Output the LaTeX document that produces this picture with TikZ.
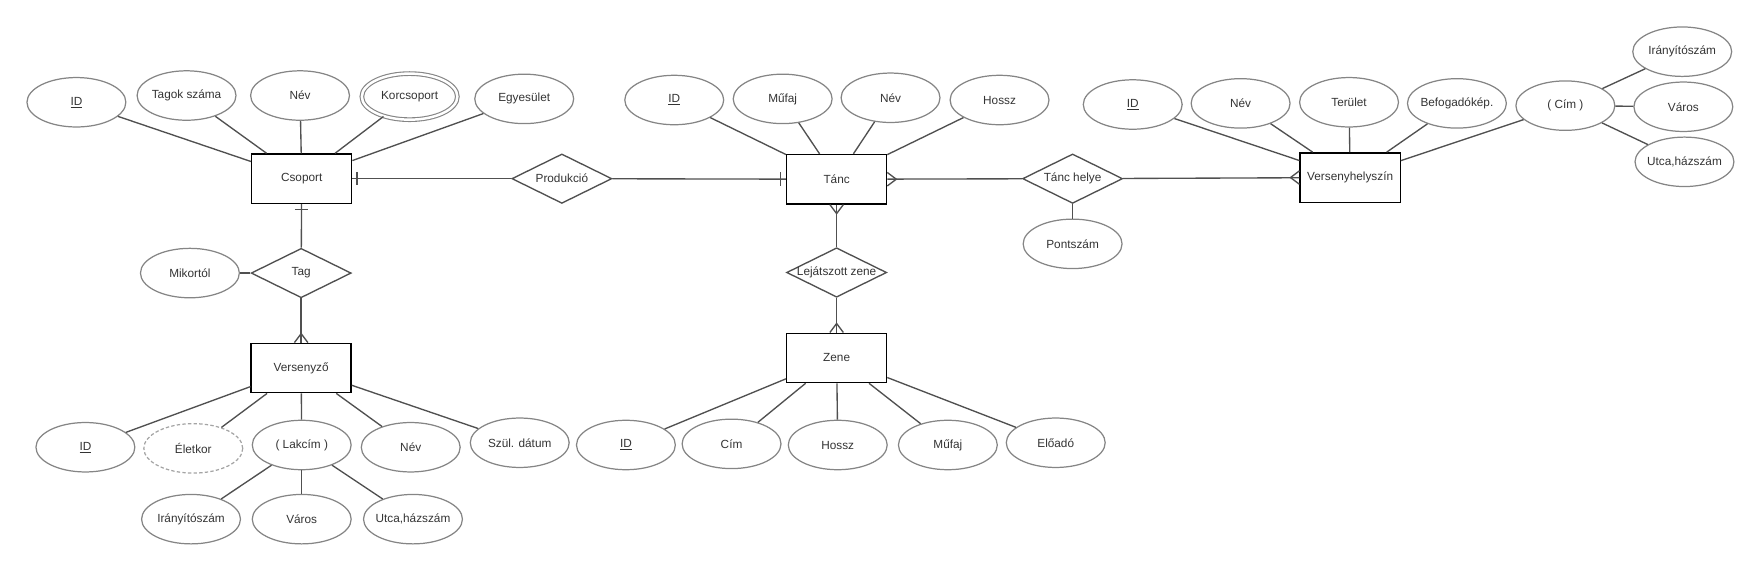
\documentclass[tikz,border=0pt]{standalone}
\usepackage{fontspec}
\setmainfont{Liberation Sans}
\usetikzlibrary{shapes.geometric,calc}
\definecolor{ln}{HTML}{505050}
\definecolor{el}{HTML}{858585}
\definecolor{tx}{HTML}{333333}
\newcommand{\zb}[1]{\makebox[0pt]{#1}}
\begin{document}
\begin{tikzpicture}[x=1pt,y=-1pt,
  every node/.style={font=\fontsize{10.5}{12}\selectfont, text=tx},
  ent/.style={rectangle, draw=black, line width=1.2pt, minimum width=89pt, minimum height=44pt, inner sep=0pt},
  attr/.style={ellipse, draw=el, line width=1.1pt, minimum width=88pt, minimum height=44pt, inner sep=0pt},
  dblattr/.style={attr, line width=1pt, double=white, double distance=2.2pt, minimum width=85pt, minimum height=41pt},
  derattr/.style={attr, draw=el!75, dash pattern=on 3pt off 2pt},
  rel/.style={diamond, draw=ln, line width=1.2pt, minimum width=89pt, minimum height=44pt, inner sep=0pt},
  con/.style={draw=ln, line width=1.2pt}]
\useasboundingbox (0,0) rectangle (1568,508);

% ---- Csoport ----
\node[ent] (csop) at (268.5,159) {Csoport};
\node[attr] (cid) at (68,91) {\zb{\underline{ID}}};
\node[attr] (ctag) at (166,85) {\zb{Tagok száma}};
\node[attr] (cnev) at (267,85) {\zb{Név}};
\node[dblattr] (ckor) at (364.5,86) {\zb{Korcsoport}};
\node[attr] (cegy) at (466.5,88) {\zb{Egyesület}};
\node[rel] (prod) at (500,159) {\zb{Produkció}};
\node[rel] (tag) at (268,243) {\zb{Tag}};
\node[attr] (mik) at (169,243) {\zb{Mikortól}};

% ---- Versenyző ----
\node[ent] (vers) at (268,327.5) {Versenyző};
\node[attr] (vid) at (76,398) {\zb{\underline{ID}}};
\node[derattr] (elet) at (172,399) {\zb{Életkor}};
\node[attr] (lak) at (268.5,396) {\zb{( Lakcím )}};
\node[attr] (vnev) at (365.5,398) {\zb{Név}};
\node[attr] (szul) at (462.5,394) {\zb{Szül. dátum}};
\node[attr] (lirsz) at (170,462) {\zb{Irányítószám}};
\node[attr] (lvar) at (268.5,462) {\zb{Város}};
\node[attr] (lutca) at (367.5,462) {\zb{Utca,házszám}};

% ---- Tánc ----
\node[ent] (tanc) at (744.5,159.5) {Tánc};
\node[attr] (tid) at (600,89) {\zb{\underline{ID}}};
\node[attr] (tmuf) at (696.5,88) {\zb{Műfaj}};
\node[attr] (tnev) at (792.5,87) {\zb{Név}};
\node[attr] (thossz) at (889.5,89) {\zb{Hossz}};
\node[rel] (thely) at (954.5,159) {\zb{Tánc helye}};
\node[attr] (pont) at (954.5,217) {\zb{Pontszám}};
\node[rel] (lej) at (744.5,242.5) {\zb{Lejátszott zene}};

% ---- Zene ----
\node[ent] (zene) at (744.5,318.5) {Zene};
\node[attr] (zid) at (557,396) {\zb{\underline{ID}}};
\node[attr] (zcim) at (651,395) {\zb{Cím}};
\node[attr] (zhossz) at (745.5,396) {\zb{Hossz}};
\node[attr] (zmuf) at (843.5,396) {\zb{Műfaj}};
\node[attr] (zelo) at (939.5,394) {\zb{Előadó}};

% ---- Versenyhelyszín ----
\node[ent] (vh) at (1201.5,158) {Versenyhelyszín};
\node[attr] (hid) at (1008,93) {\zb{\underline{ID}}};
\node[attr] (hnev) at (1104,92) {\zb{Név}};
\node[attr] (hter) at (1200.5,91) {\zb{Terület}};
\node[attr] (hbef) at (1296.5,92) {\zb{Befogadókép.}};
\node[attr] (hcim) at (1393,94) {\zb{( Cím )}};
\node[attr] (cirsz) at (1497,46) {\zb{Irányítószám}};
\node[attr] (cvar) at (1498,95) {\zb{Város}};
\node[attr] (cutca) at (1499,144) {\zb{Utca,házszám}};

% ---- attribute connectors ----
\foreach \a in {cid,ctag,cnev,ckor,cegy} \draw[con] (\a) -- (csop);
\foreach \a in {vid,elet,lak,vnev,szul} \draw[con] (\a) -- (vers);
\foreach \a in {lirsz,lvar,lutca} \draw[con] (lak) -- (\a);
\foreach \a in {tid,tmuf,tnev,thossz} \draw[con] (\a) -- (tanc);
\foreach \a in {zid,zcim,zhossz,zmuf,zelo} \draw[con] (\a) -- (zene);
\foreach \a in {hid,hnev,hter,hbef,hcim} \draw[con] (\a) -- (vh);
\foreach \a in {cirsz,cvar,cutca} \draw[con] (hcim) -- (\a);
\draw[con] (mik) -- (tag);
\draw[con] (thely) -- (pont);

% ---- relationship connectors ----
\draw[con] (csop) -- (prod);
\draw[con] (prod) -- (tanc);
\draw[con] (csop) -- (tag);
\draw[con] (tag) -- (vers);
\draw[con] (tanc) -- (thely);
\draw[con] (thely) -- (vh);
\draw[con] (tanc) -- (lej);
\draw[con] (lej) -- (zene);

% ---- cardinality marks ----
% one
\draw[con] ($(csop.east)+(4,-6)$) -- ($(csop.east)+(4,6)$);
\draw[con] ($(tanc.west)+(-5,-6)$) -- ($(tanc.west)+(-5,6)$);
\draw[con] ($(csop.south)+(-6,5)$) -- ($(csop.south)+(6,5)$);
% many
\draw[con] ($(tanc.east)+(0,-6)$) -- ($(tanc.east)+(8,0)$) -- ($(tanc.east)+(0,6)$);
\draw[con] ($(vh.west)+(0,-6)$) -- ($(vh.west)+(-8,0)$) -- ($(vh.west)+(0,6)$);
\draw[con] ($(tanc.south)+(-6,0)$) -- ($(tanc.south)+(0,8)$) -- ($(tanc.south)+(6,0)$);
\draw[con] ($(zene.north)+(-6,0)$) -- ($(zene.north)+(0,-8)$) -- ($(zene.north)+(6,0)$);
\draw[con] ($(vers.north)+(-6,0)$) -- ($(vers.north)+(0,-8)$) -- ($(vers.north)+(6,0)$);
\end{tikzpicture}
\end{document}
